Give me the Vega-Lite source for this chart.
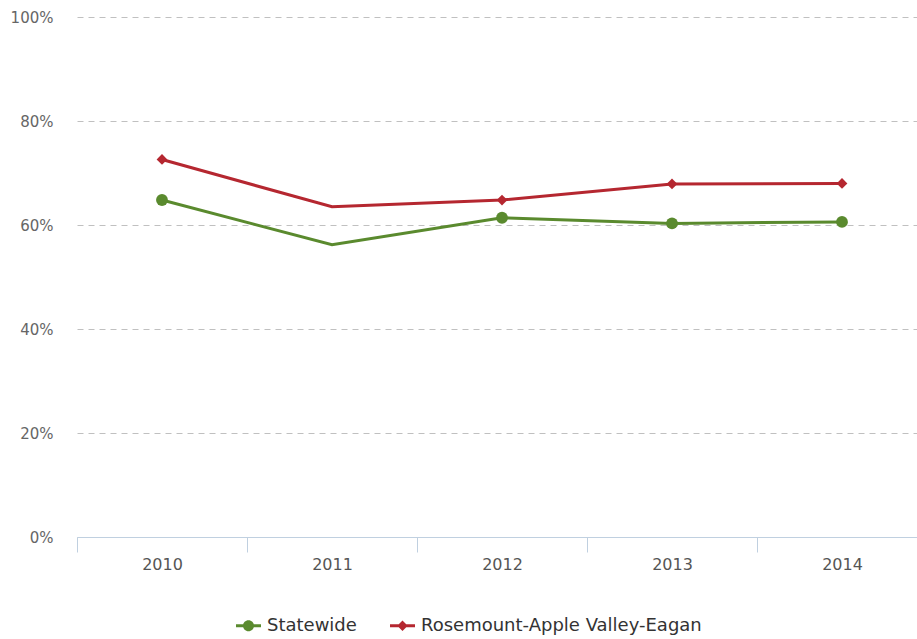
{
  "$schema": "https://vega.github.io/schema/vega-lite/v6.json",
  "width": 840,
  "height": 520,
  "autosize": {"type": "none"},
  "padding": {"left": 77, "top": 17, "right": 0, "bottom": 102},
  "background": "white",
  "config": {
    "view": {"stroke": null},
    "font": "DejaVu Sans"
  },
  "resolve": {"legend": {"color": "independent", "shape": "independent"}},
  "data": {
    "values": [
      {"year": "2010", "series": "Statewide", "value": 64.8},
      {"year": "2011", "series": "Statewide", "value": 56.2},
      {"year": "2012", "series": "Statewide", "value": 61.4},
      {"year": "2013", "series": "Statewide", "value": 60.3},
      {"year": "2014", "series": "Statewide", "value": 60.6},
      {"year": "2010", "series": "Rosemount-Apple Valley-Eagan", "value": 72.6},
      {"year": "2011", "series": "Rosemount-Apple Valley-Eagan", "value": 63.5},
      {"year": "2012", "series": "Rosemount-Apple Valley-Eagan", "value": 64.8},
      {"year": "2013", "series": "Rosemount-Apple Valley-Eagan", "value": 67.9},
      {"year": "2014", "series": "Rosemount-Apple Valley-Eagan", "value": 68.0}
    ]
  },
  "encoding": {
    "x": {
      "field": "year", "type": "ordinal",
      "scale": {"type": "band", "range": [0, 850], "paddingInner": 0, "paddingOuter": 0},
      "axis": {
        "title": null, "labelAngle": 0, "labelFontSize": 16, "labelColor": "#555555",
        "labelFont": "DejaVu Sans", "domainColor": "#c0d0e0", "tickColor": "#c0d0e0",
        "tickSize": 15, "tickBand": "extent", "labelPadding": 4, "grid": false
      }
    },
    "y": {
      "field": "value", "type": "quantitative",
      "scale": {"domain": [0, 100], "nice": false},
      "axis": {
        "title": null, "values": [0, 20, 40, 60, 80, 100], "labelExpr": "datum.value + '%'",
        "labelFontSize": 15, "labelColor": "#666666", "labelFont": "DejaVu Sans",
        "domain": false, "ticks": false, "labelPadding": 24,
        "grid": true, "gridColor": "#c0c0c0", "gridDash": [6, 5], "gridWidth": 1
      }
    }
  },
  "layer": [
    {
      "mark": {"type": "line", "strokeWidth": 3},
      "encoding": {
        "color": {
          "field": "series", "type": "nominal",
          "scale": {"domain": ["Statewide", "Rosemount-Apple Valley-Eagan"], "range": ["#5a8a2e", "#b52730"]},
          "legend": null
        }
      }
    },
    {
      "transform": [{"filter": "datum.year != '2011' && datum.series == 'Statewide'"}],
      "mark": {"type": "point", "filled": true, "opacity": 1, "shape": "circle", "size": 140},
      "encoding": {
        "color": {"field": "series", "type": "nominal", "legend": null}
      }
    },
    {
      "transform": [{"filter": "datum.year != '2011' && datum.series != 'Statewide'"}],
      "mark": {"type": "point", "filled": true, "opacity": 1, "shape": "diamond", "size": 115},
      "encoding": {
        "color": {"field": "series", "type": "nominal", "legend": null}
      }
    },
    {
      "transform": [{"filter": "datum.year == '2010'"}],
      "mark": {"type": "point", "filled": true, "opacity": 1, "size": 0},
      "encoding": {
        "color": {
          "field": "series", "type": "nominal",
          "legend": {
            "title": null, "orient": "none", "legendX": 159, "legendY": 596, "direction": "horizontal",
            "symbolSize": 625, "labelFontSize": 18, "labelFont": "DejaVu Sans", "labelColor": "#333333",
            "labelOffset": 6, "columnPadding": 33, "symbolStrokeWidth": 0, "symbolOpacity": 1, "labelLimit": 0
          }
        },
        "shape": {
          "field": "series", "type": "nominal",
          "scale": {
            "domain": ["Statewide", "Rosemount-Apple Valley-Eagan"],
            "range": [
              "M-1,-0.12 L1,-0.12 L1,0.12 L-1,0.12 Z M-0.44,0 A0.44,0.44 0 1,1 0.44,0 A0.44,0.44 0 1,1 -0.44,0 Z",
              "M-1,-0.12 L1,-0.12 L1,0.12 L-1,0.12 Z M0,-0.42 L0.42,0 L0,0.42 L-0.42,0 Z"
            ]
          },
          "legend": {
            "title": null, "orient": "none", "legendX": 159, "legendY": 596, "direction": "horizontal",
            "symbolSize": 625, "labelFontSize": 18, "labelFont": "DejaVu Sans", "labelColor": "#333333",
            "labelOffset": 6, "columnPadding": 33, "symbolStrokeWidth": 0, "symbolOpacity": 1, "labelLimit": 0
          }
        }
      }
    }
  ]
}
